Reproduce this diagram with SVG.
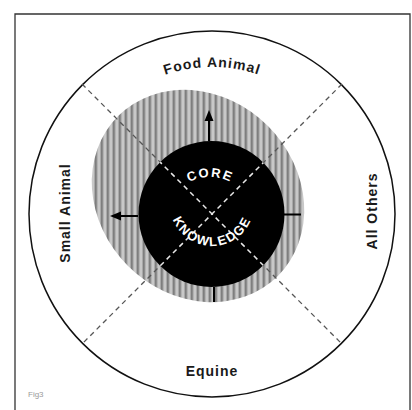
<svg xmlns="http://www.w3.org/2000/svg" width="412" height="410" viewBox="0 0 412 410">
  <style>
    .lbl { font-family: "Liberation Sans", Arial, sans-serif; font-size: 14px; font-weight: bold; fill: #1a1a1a; letter-spacing: 1px; }
    .core { font-family: "Liberation Sans", Arial, sans-serif; font-size: 13px; font-weight: bold; fill: #ffffff; letter-spacing: 1.6px; }
    .dash { stroke: #555; stroke-width: 1.3; stroke-dasharray: 5 4; fill: none; }
    .dashw { stroke: #e8e8e8; stroke-width: 1.5; stroke-dasharray: 5 4; fill: none; }
    .arrow { stroke: #000; stroke-width: 2; fill: none; }
  </style>
  <defs>
    <pattern id="hatch" width="6" height="10" patternUnits="userSpaceOnUse" patternTransform="rotate(-45)">
      <rect width="6" height="10" fill="#c8c8c8"/>
      <rect x="0" width="2.5" height="10" fill="#7e7e7e"/>
    </pattern>
    <clipPath id="coreClip">
      <circle cx="211.5" cy="214" r="73"/>
    </clipPath>
    <path id="corePath" d="M 165,222 A 45 45 0 0 1 255,222"/>
    <path id="knowPath" d="M 170,204 A 42 42 0 0 0 254,204"/>
    <path id="foodPath" d="M 112,106.3 A 147 147 0 0 1 312,106.3"/>
  </defs>

  <rect width="412" height="410" fill="#ffffff"/>
  <path d="M15,410 V14 H410 V410" fill="none" stroke="#333" stroke-width="1.3"/>

  <g id="outer-circle">
    <circle cx="212" cy="214" r="183" fill="none" stroke="#111" stroke-width="1.5"/>
  </g>

  <g id="expansion-zone">
    <ellipse cx="198" cy="196" rx="113" ry="99" transform="rotate(45 198 196)" fill="url(#hatch)"/>
  </g>

  <g id="connectors">
    <line class="dash" x1="82" y1="84" x2="342" y2="344"/>
    <line class="dash" x1="342" y1="84" x2="82" y2="344"/>
  </g>

  <g id="core-knowledge">
    <circle cx="211.5" cy="214" r="73" fill="#000"/>
    <g clip-path="url(#coreClip)">
      <line class="dashw" x1="82" y1="84" x2="342" y2="344"/>
      <line class="dashw" x1="342" y1="84" x2="82" y2="344"/>
    </g>
    <text class="core"><textPath href="#corePath" startOffset="50%" text-anchor="middle">CORE</textPath></text>
    <text class="core"><textPath href="#knowPath" startOffset="50%" text-anchor="middle">KNOWLEDGE</textPath></text>
  </g>

  <g id="arrows">
    <line class="arrow" x1="209" y1="141" x2="209" y2="119"/>
    <polygon points="209,110 204.5,121 213.5,121" fill="#000"/>
    <line class="arrow" x1="138" y1="216" x2="119" y2="216"/>
    <polygon points="110,216 121,211.5 121,220.5" fill="#000"/>
    <line class="arrow" x1="284" y1="214.5" x2="301" y2="214.5"/>
    <line class="arrow" x1="214" y1="287" x2="214" y2="302"/>
  </g>

  <g id="food-animal">
    <text class="lbl"><textPath href="#foodPath" startOffset="50%" text-anchor="middle">Food Animal</textPath></text>
  </g>
  <g id="equine">
    <text class="lbl" x="212" y="376" text-anchor="middle">Equine</text>
  </g>
  <g id="small-animal">
    <text class="lbl" x="0" y="0" text-anchor="middle" transform="translate(70 213) rotate(-90)">Small Animal</text>
  </g>
  <g id="all-others">
    <text class="lbl" x="0" y="0" text-anchor="middle" transform="translate(377 211) rotate(-90)">All Others</text>
  </g>

  <text x="28" y="397" font-family="Liberation Sans, Arial, sans-serif" font-size="8" fill="#9a9a9a">Fig3</text>
</svg>
